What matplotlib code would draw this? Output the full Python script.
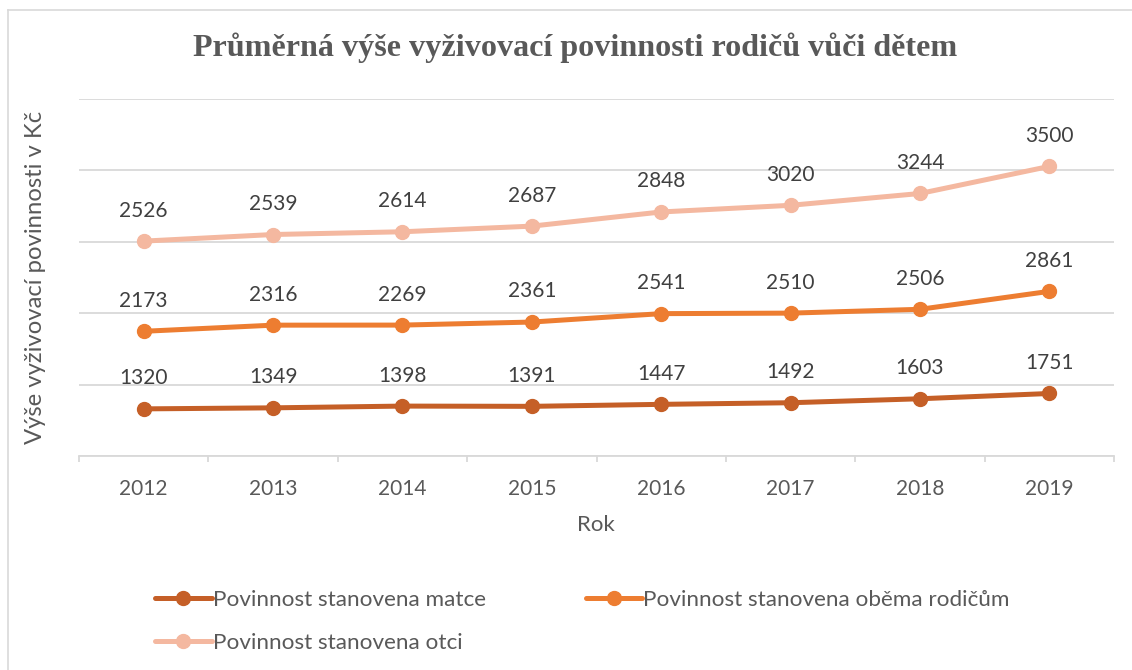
import matplotlib
matplotlib.use("Agg")
import matplotlib.pyplot as plt
import numpy as np
from matplotlib.lines import Line2D

years = ["2012", "2013", "2014", "2015", "2016", "2017", "2018", "2019"]
matce = [1320, 1349, 1398, 1391, 1447, 1492, 1603, 1751]
obema = [2173, 2316, 2269, 2361, 2541, 2510, 2506, 2861]
otci = [2526, 2539, 2614, 2687, 2848, 3020, 3244, 3500]

series_names = ["Povinnost stanovena matce", "Povinnost stanovena oběma rodičům", "Povinnost stanovena otci"]
colors = ["#C55F27", "#ED7D31", "#F4B8A0"]

FONT = "Lato"
W, H = 1132, 670
fig = plt.figure(figsize=(W / 100, H / 100), dpi=100)

# chart-area border (left and top visible)
fig.add_artist(Line2D([8 / W, 8 / W], [0, 1 - 10 / H], transform=fig.transFigure, color="#D9D9D9", lw=1.2))
fig.add_artist(Line2D([8 / W, 1], [1 - 10 / H, 1 - 10 / H], transform=fig.transFigure, color="#D9D9D9", lw=1.2))

left, right = 79 / W, 1114 / W
bottom, top = 1 - 456 / H, 1 - 99 / H
ax = fig.add_axes([left, bottom, right - left, top - bottom])

x = np.arange(len(years))
stack = np.vstack([matce, obema, otci])
cum = np.cumsum(stack, axis=0)

handles = []
for i in range(3):
    h, = ax.plot(x, cum[i], color=colors[i], lw=3.6, marker="o", markersize=10,
                 solid_capstyle="round", zorder=3 + i)
    handles.append(h)
    for xi, yi, v in zip(x, cum[i], stack[i]):
        ax.annotate(str(v), (xi, yi), xytext=(0, 22.0), textcoords="offset points",
                    ha="center", va="center", fontsize=15, color="#404040", family=FONT)

ax.set_xlim(-0.5, len(years) - 0.5)
ax.set_ylim(0, 10000)
ax.set_yticks(np.arange(0, 10001, 2000))
ax.yaxis.grid(True, color="#D9D9D9", lw=1.3)
ax.set_axisbelow(True)
ax.tick_params(axis="y", left=False, labelleft=False)
for s in ["left", "right", "top"]:
    ax.spines[s].set_visible(False)
ax.spines["bottom"].set_color("#D9D9D9")
ax.spines["bottom"].set_linewidth(1.3)

ax.set_xticks(x)
ax.set_xticklabels(years, fontsize=15, color="#595959", family=FONT)
ax.tick_params(axis="x", which="major", length=0, pad=16.5)
ax.set_xticks(np.arange(-0.5, len(years), 1), minor=True)
ax.tick_params(axis="x", which="minor", length=4.5, color="#D9D9D9", width=1.3)

fig.text(596 / W, 1 - 525 / H, "Rok", ha="center", va="center", fontsize=16, color="#595959", family=FONT)
fig.text(36 / W, 1 - 277 / H, "Výše vyživovací povinnosti v Kč", ha="center", va="center",
         rotation=90, fontsize=17.2, color="#595959", family=FONT)
fig.text(575 / W, 1 - 48 / H, "Průměrná výše vyživovací povinnosti rodičů vůči dětem",
         ha="center", va="center", fontsize=23.1, fontweight="bold", color="#595959",
         family="Liberation Serif")

order = [0, 2, 1]
leg = fig.legend([handles[i] for i in order], [series_names[i] for i in order],
                 ncol=2, loc="upper left", bbox_to_anchor=(144 / W, 1 - 579 / H),
                 frameon=False, borderpad=0, handlelength=2.5, handletextpad=0.05,
                 columnspacing=4.45, labelspacing=1.0,
                 prop={"family": FONT, "size": 16.2})
for t in leg.get_texts():
    t.set_color("#595959")

fig.savefig("out.png", dpi=100)
